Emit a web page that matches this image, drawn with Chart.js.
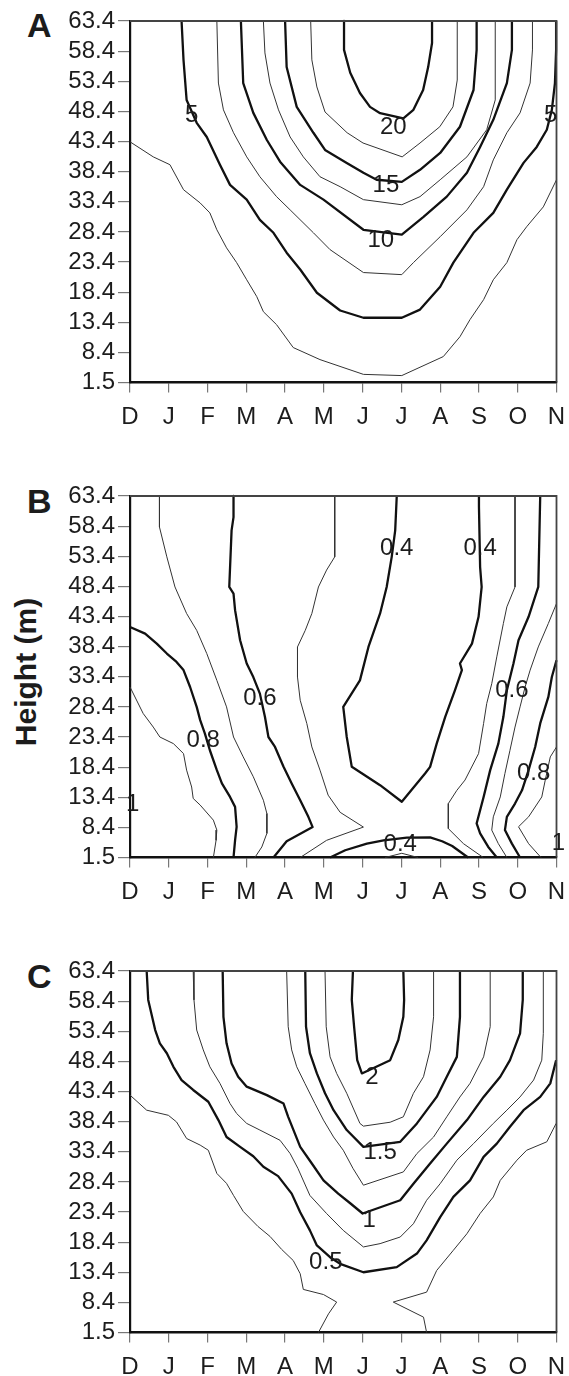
<!DOCTYPE html>
<html>
<head>
<meta charset="utf-8">
<script src="https://cdn.jsdelivr.net/npm/chart.js@4.4.1/dist/chart.umd.min.js"></script>
<style>
  html, body { margin: 0; padding: 0; background: #fff; }
  body { width: 569px; height: 1376px; position: relative; overflow: hidden;
         font-family: "Liberation Sans", Arial, Helvetica, sans-serif; color: #1c1c1c; }
  canvas { position: absolute; left: 0; }
  .tag { position: absolute; left: 27px; font-weight: bold; font-size: 34px; line-height: 1; }
  .ytitle { position: absolute; font-weight: bold; font-size: 30px; line-height: 1; white-space: nowrap;
            transform: translate(-50%, -50%) rotate(-90deg); }
</style>
</head>
<body>
<div class="tag" style="top:8px">A</div>
<div class="tag" style="top:484px">B</div>
<div class="tag" style="top:959px">C</div>
<div class="ytitle" style="left:26px; top:672px">Height (m)</div>
<canvas id="panelA" width="569" height="440" style="top:0px"></canvas>
<canvas id="panelB" width="569" height="440" style="top:475px"></canvas>
<canvas id="panelC" width="569" height="440" style="top:950px"></canvas>
<script>
// Axis categories: months (Dec..Nov) and measurement heights (m)
const months = ['D', 'J', 'F', 'M', 'A', 'M', 'J', 'J', 'A', 'S', 'O', 'N'];
const heights = ['1.5', '8.4', '13.4', '18.4', '23.4', '28.4', '33.4', '38.4', '43.4', '48.4', '53.4', '58.4', '63.4'];

// Isolines as [month index, height index] pairs.
// Panel A: isolines 2.5 .. 20
const A_2_5 = [[0,7.99],[0.60,7.49],[1.03,7.23],[1.38,6.40],[1.81,5.96],[2.06,5.63],[2.24,5.07],[2.49,4.47],[2.75,3.98],[3.01,3.41],[3.27,2.85],[3.44,2.35],[3.78,1.92],[4.21,1.16],[4.90,0.76],[6.02,0.27],[7.01,0.23],[8.08,0.86],[8.51,1.52],[8.77,2.09],[9.12,2.75],[9.37,3.41],[9.72,3.98],[9.98,4.74],[10.23,5.17],[10.66,5.83],[11,6.73]];
const A_5 = [[1.33,12],[1.38,10.71],[1.46,9.38],[1.72,8.62],[1.98,8.15],[2.32,7.23],[2.58,6.56],[3.01,6.07],[3.35,5.40],[3.70,4.97],[4.04,4.31],[4.39,3.75],[4.82,2.98],[5.42,2.39],[6.02,2.15],[7.01,2.15],[7.48,2.42],[8.0,3.18],[8.34,3.98],[8.86,4.97],[9.37,5.63],[9.72,6.40],[10.15,7.29],[10.49,7.82],[10.75,8.39],[10.88,9.05],[10.96,9.94],[10.99,11.04],[10.99,12]];
const A_7_5 = [[2.24,12],[2.28,9.94],[2.41,9.05],[2.67,8.29],[3.01,7.49],[3.35,6.83],[3.78,6.17],[4.13,5.73],[4.73,4.97],[5.16,4.41],[6.02,3.65],[7.01,3.58],[7.31,3.98],[8.0,4.84],[8.69,5.73],[9.12,6.50],[9.37,7.39],[9.72,8.29],[10.06,8.95],[10.32,9.94],[10.38,11.04],[10.38,12]];
const A_10 = [[2.86,12],[2.92,9.94],[3.18,8.95],[3.53,8.05],[3.87,7.33],[4.39,6.56],[4.99,6.07],[6.02,5.07],[7.01,4.91],[7.57,5.50],[8.17,6.17],[8.69,6.96],[9.03,7.82],[9.37,8.72],[9.72,9.94],[9.85,11.04],[9.85,12]];
const A_12_5 = [[3.44,12],[3.48,10.94],[3.61,9.94],[3.83,9.05],[4.13,8.15],[4.47,7.49],[4.90,6.83],[5.42,6.50],[6.02,6.07],[7.01,5.90],[7.48,6.17],[8.0,6.73],[8.69,7.49],[9.20,8.39],[9.42,9.38],[9.42,11.04],[9.42,12]];
const A_15 = [[4.0,12],[4.04,10.47],[4.30,9.15],[4.73,8.29],[5.03,7.72],[5.59,7.29],[6.02,6.96],[6.36,6.73],[7.01,6.66],[7.48,7.06],[8.0,7.62],[8.51,8.49],[8.86,9.71],[8.94,11.04],[8.94,12]];
const A_17_5 = [[4.66,12],[4.69,10.71],[4.82,9.81],[5.03,8.98],[5.60,8.29],[6.01,7.95],[7.02,7.49],[7.48,7.95],[7.99,8.49],[8.33,9.15],[8.44,10.04],[8.44,11.04],[8.44,12]];
const A_20 = [[5.52,12],[5.52,11.04],[5.68,10.28],[5.93,9.61],[6.19,9.15],[6.45,8.94],[7.05,8.77],[7.31,9.05],[7.56,9.71],[7.69,10.47],[7.79,11.27],[7.79,12]];
const A_labels = [['5',1.59,8.94],['5',10.85,8.92],['20',6.79,8.52],['15',6.60,6.60],['10',6.47,4.77]];

// Panel B: isolines 0.3 .. 1.0
const B_0_3 = [[6.58,0],[7.01,0.14],[7.43,0]];
const B_0_4a = [[6.88,12],[6.84,10.86],[6.75,9.98],[6.62,8.98],[6.45,8.10],[6.15,6.99],[5.93,5.88],[5.50,5.00],[5.59,4.00],[5.72,3.01],[6.45,2.40],[7.01,1.85],[7.61,2.79],[7.74,3.01],[7.91,3.78],[8.13,4.67],[8.38,5.55],[8.56,6.22],[8.51,6.44],[8.82,7.10],[8.99,7.99],[9.07,8.98],[9.03,9.64],[9.00,11.64],[9.00,12]];
const B_0_4b = [[5.16,0],[5.55,0.24],[6.11,0.46],[6.54,0.57],[7.14,0.66],[7.74,0.67],[8.05,0.54],[8.31,0.38],[8.72,0]];
const B_0_5a = [[5.28,12],[5.28,9.98],[5.07,9.54],[4.86,8.98],[4.69,8.10],[4.52,7.54],[4.32,6.99],[4.32,5.99],[4.39,5.22],[4.56,4.45],[4.69,3.67],[4.90,2.90],[5.11,2.07],[5.42,1.50],[6.02,1.01],[5.07,0.57],[4.39,0]];
const B_0_5b = [[9.93,12],[9.93,8.98],[9.72,8.32],[9.63,7.77],[9.46,6.66],[9.33,5.77],[9.20,5.11],[9.12,4.45],[8.99,3.45],[8.64,2.57],[8.43,2.23],[8.21,1.79],[8.21,0.96],[8.60,0.46],[9.11,0]];
const B_0_6a = [[2.67,12],[2.67,11.30],[2.62,10.86],[2.56,8.98],[2.67,8.76],[2.71,8.21],[2.84,7.21],[3.01,6.44],[3.18,5.99],[3.35,5.44],[3.48,4.67],[3.57,4.00],[3.74,3.67],[3.96,3.01],[4.17,2.46],[4.39,1.90],[4.60,1.35],[4.71,1.01],[4.04,0.54],[3.70,0]];
const B_0_6b = [[10.58,12],[10.53,8.98],[10.28,7.99],[10.02,7.21],[9.89,6.44],[9.72,5.55],[9.63,4.67],[9.50,3.78],[9.29,2.90],[9.12,2.01],[8.94,1.13],[9.03,0.80],[9.24,0.35],[9.46,0]];
const B_0_7a = [[0.76,12],[0.76,10.97],[0.95,9.98],[1.16,8.98],[1.46,8.10],[1.72,7.54],[1.98,6.77],[2.24,5.88],[2.49,5.00],[2.67,4.00],[2.92,3.34],[3.18,2.68],[3.44,1.90],[3.53,1.46],[3.53,0.80],[3.40,0.35],[3.22,0]];
const B_0_7b = [[11,8.43],[10.79,7.77],[10.53,6.99],[10.32,6.22],[10.19,5.66],[10.06,5.00],[9.93,4.33],[9.80,3.56],[9.67,2.79],[9.55,2.01],[9.37,1.35],[9.33,0.91],[9.50,0.46],[9.72,0]];
const B_0_8a = [[0,7.65],[0.39,7.43],[0.69,7.10],[0.95,6.77],[1.20,6.49],[1.38,6.22],[1.55,5.66],[1.72,5.00],[1.81,4.56],[1.93,4.12],[2.06,3.56],[2.24,2.90],[2.37,2.46],[2.58,2.01],[2.71,1.68],[2.75,1.02],[2.71,0.57],[2.67,0]];
const B_0_8b = [[11,6.55],[10.88,5.99],[10.79,5.33],[10.58,4.45],[10.45,3.67],[10.28,2.90],[10.11,2.23],[9.93,1.79],[9.72,1.35],[9.67,0.91],[9.85,0.46],[10.06,0]];
const B_0_9a = [[0,5.66],[0.34,4.78],[0.60,4.33],[0.77,4.00],[1.12,3.78],[1.38,3.45],[1.46,2.90],[1.59,2.34],[1.63,1.96],[1.81,1.74],[2.15,1.24],[2.24,0.91],[2.22,0.57],[2.15,0]];
const B_0_9b = [[11,3.67],[10.84,3.34],[10.71,2.57],[10.62,2.01],[10.28,1.35],[10.02,1.02],[10.28,0.46],[10.60,0]];
const B_labels = [['0.4',6.88,10.33],['0.4',9.03,10.33],['0.6',3.35,5.34],['0.6',9.85,5.61],['0.8',1.89,3.95],['0.8',10.41,2.87],['1',0.07,1.82],['1',11.05,0.52],['0.4',6.97,0.49]];

// Panel C: isolines 0.25 .. 2.0
const C_0_25a = [[0,7.88],[0.43,7.38],[0.99,7.21],[1.20,6.99],[1.46,6.44],[1.81,6.22],[2.02,6.05],[2.24,5.28],[2.49,4.95],[2.67,4.55],[2.92,4.02],[3.30,3.52],[3.61,3.19],[3.91,2.76],[4.21,2.39],[4.39,1.95],[4.47,1.43],[4.99,1.26],[5.33,1.01],[5.12,0.62],[4.86,0]];
const C_0_25b = [[7.65,0],[7.57,0.51],[6.79,1.01],[7.65,1.34],[7.91,2.06],[8.34,2.73],[8.69,3.28],[9.03,3.95],[9.37,4.50],[9.55,5.05],[9.98,5.72],[10.23,6.05],[10.75,6.33],[10.99,6.94]];
const C_0_5 = [[0.43,12],[0.47,11.04],[0.65,10.04],[0.77,9.60],[0.95,9.27],[1.12,8.82],[1.33,8.38],[1.63,8.05],[2.02,7.66],[2.28,7.05],[2.49,6.49],[2.84,6.16],[3.18,5.85],[3.44,5.50],[3.82,5.19],[4.17,4.61],[4.39,3.99],[4.64,3.39],[4.82,2.89],[5.16,2.50],[5.42,2.28],[6.02,2.00],[6.88,2.17],[7.40,2.62],[7.65,3.06],[8.0,3.83],[8.34,4.50],[8.77,5.05],[9.12,5.83],[9.46,6.27],[9.80,6.83],[10.15,7.38],[10.58,7.82],[10.84,8.27],[10.99,9.04]];
const C_0_75 = [[1.63,12],[1.65,11.04],[1.72,10.04],[1.89,9.38],[2.06,8.82],[2.32,8.27],[2.58,7.60],[2.75,7.27],[3.01,6.94],[3.35,6.72],[3.87,6.38],[4.13,5.94],[4.33,5.45],[4.64,4.55],[5.07,3.95],[5.50,3.39],[6.02,2.84],[6.45,2.95],[6.97,3.17],[7.31,3.61],[7.65,4.39],[8.0,4.94],[8.43,5.72],[8.86,6.27],[9.37,6.94],[9.72,7.38],[10.06,7.82],[10.41,8.38],[10.62,9.04],[10.66,9.93],[10.66,12]];
const C_1 = [[2.39,12],[2.41,10.48],[2.49,9.60],[2.62,8.93],[2.79,8.49],[3.01,8.16],[3.53,7.88],[3.96,7.60],[4.08,7.16],[4.39,6.16],[4.69,5.61],[4.99,5.05],[5.37,4.61],[5.68,4.29],[6.0,3.95],[6.97,4.39],[7.31,4.94],[7.74,5.61],[8.17,6.27],[8.69,7.05],[9.12,7.82],[9.55,8.49],[9.80,9.04],[10.06,9.93],[10.13,11.04],[10.13,12]];
const C_1_25 = [[4.04,12],[4.08,10.15],[4.17,9.38],[4.30,8.82],[4.51,8.27],[4.77,7.60],[4.99,7.05],[5.25,6.49],[5.50,6.05],[5.75,5.45],[6.02,4.89],[7.05,5.33],[7.40,5.94],[7.83,6.49],[8.17,7.16],[8.51,7.82],[8.77,8.27],[9.12,9.15],[9.29,10.15],[9.29,12]];
const C_1_5 = [[4.52,12],[4.54,10.15],[4.64,9.27],[4.82,8.60],[5.03,7.94],[5.25,7.38],[5.59,6.72],[6.02,6.16],[6.97,6.33],[7.40,6.94],[7.91,7.82],[8.17,8.49],[8.43,9.15],[8.51,10.48],[8.51,12]];
const C_1_75 = [[5.03,12],[5.06,10.15],[5.16,9.15],[5.33,8.60],[5.59,7.94],[5.93,6.94],[6.02,6.85],[6.71,6.98],[7.05,7.16],[7.31,7.94],[7.57,8.49],[7.74,9.38],[7.83,10.48],[7.83,12]];
const C_2 = [[5.75,12],[5.72,11.04],[5.78,10.15],[5.86,9.04],[5.98,8.60],[6.71,9.04],[6.92,9.71],[7.05,10.48],[7.07,11.04],[7.05,12]];
const C_labels = [['2',6.24,8.54],['1.5',6.45,6.05],['1',6.17,3.78],['0.5',5.05,2.39]];

// Line styles: major isolines heavy, minor ones light
const MAJOR = { color: '#111', width: 2.3 };
const MINOR = { color: '#333', width: 1 };

const FONT = '"Liberation Sans", Arial, Helvetica, sans-serif';
Chart.defaults.font.family = FONT;
Chart.defaults.font.size = 24;
Chart.defaults.color = '#1c1c1c';

function isolineChart(canvasId, lines, labels) {
  // frame (top/right edges) plus inline isoline value labels
  const overlay = {
    id: 'overlay',
    afterDatasetsDraw(chart) {
      const { ctx, chartArea: a, scales: { x, y } } = chart;
      ctx.save();
      ctx.strokeStyle = '#444';
      ctx.lineWidth = 1.8;
      ctx.beginPath();
      ctx.moveTo(a.left, a.top);
      ctx.lineTo(a.right, a.top);
      ctx.lineTo(a.right, a.bottom);
      ctx.stroke();
      ctx.fillStyle = '#1c1c1c';
      ctx.font = '24px ' + FONT;
      ctx.textAlign = 'center';
      ctx.textBaseline = 'alphabetic';
      for (const [text, lx, ly] of labels) {
        ctx.fillText(text, x.getPixelForValue(lx), y.getPixelForValue(ly) + 8.6);
      }
      ctx.restore();
    }
  };

  return new Chart(document.getElementById(canvasId), {
    type: 'scatter',
    data: {
      datasets: lines.map(([pts, style]) => ({
        data: pts.map(([x, y]) => ({ x, y })),
        showLine: true,
        borderColor: style.color,
        borderWidth: style.width,
        borderJoinStyle: 'round',
        pointRadius: 0,
        pointHoverRadius: 0,
        tension: 0,
        fill: false,
        clip: 3
      }))
    },
    options: {
      responsive: false,
      animation: false,
      events: [],
      layout: { padding: { top: 21, right: 12.5, bottom: 0, left: 0 } },
      plugins: { legend: { display: false }, tooltip: { enabled: false } },
      scales: {
        x: {
          type: 'linear', position: 'bottom', min: 0, max: 11,
          afterFit: (s) => { s.height = 57.5; s.paddingLeft = 0; s.paddingRight = 0; },
          ticks: { stepSize: 1, autoSkip: false, maxRotation: 0, padding: 10,
                   callback: (v) => months[v] ?? '' },
          grid: { drawOnChartArea: false, drawTicks: true, tickLength: 10, color: '#777', lineWidth: 1.2 },
          border: { display: true, color: '#111', width: 2.5 }
        },
        y: {
          type: 'linear', position: 'left', min: 0, max: 12,
          afterFit: (s) => { s.width = 130; s.paddingTop = 0; s.paddingBottom = 0; },
          ticks: { stepSize: 1, autoSkip: false, padding: 3, maxTicksLimit: 20,
                   callback: (v) => heights[v] ?? '' },
          grid: { drawOnChartArea: false, drawTicks: true, tickLength: 12, color: '#777', lineWidth: 1.2 },
          border: { display: true, color: '#111', width: 2.2 }
        }
      }
    },
    plugins: [overlay]
  });
}

isolineChart('panelA', [
  [A_2_5, MINOR], [A_5, MAJOR], [A_7_5, MINOR], [A_10, MAJOR],
  [A_12_5, MINOR], [A_15, MAJOR], [A_17_5, MINOR], [A_20, MAJOR]
], A_labels);

isolineChart('panelB', [
  [B_0_3, MINOR], [B_0_4a, MAJOR], [B_0_4b, MAJOR], [B_0_5a, MINOR], [B_0_5b, MINOR],
  [B_0_6a, MAJOR], [B_0_6b, MAJOR], [B_0_7a, MINOR], [B_0_7b, MINOR],
  [B_0_8a, MAJOR], [B_0_8b, MAJOR], [B_0_9a, MINOR], [B_0_9b, MINOR]
], B_labels);

isolineChart('panelC', [
  [C_0_25a, MINOR], [C_0_25b, MINOR], [C_0_5, MAJOR], [C_0_75, MINOR], [C_1, MAJOR],
  [C_1_25, MINOR], [C_1_5, MAJOR], [C_1_75, MINOR], [C_2, MAJOR]
], C_labels);
</script>
</body>
</html>
